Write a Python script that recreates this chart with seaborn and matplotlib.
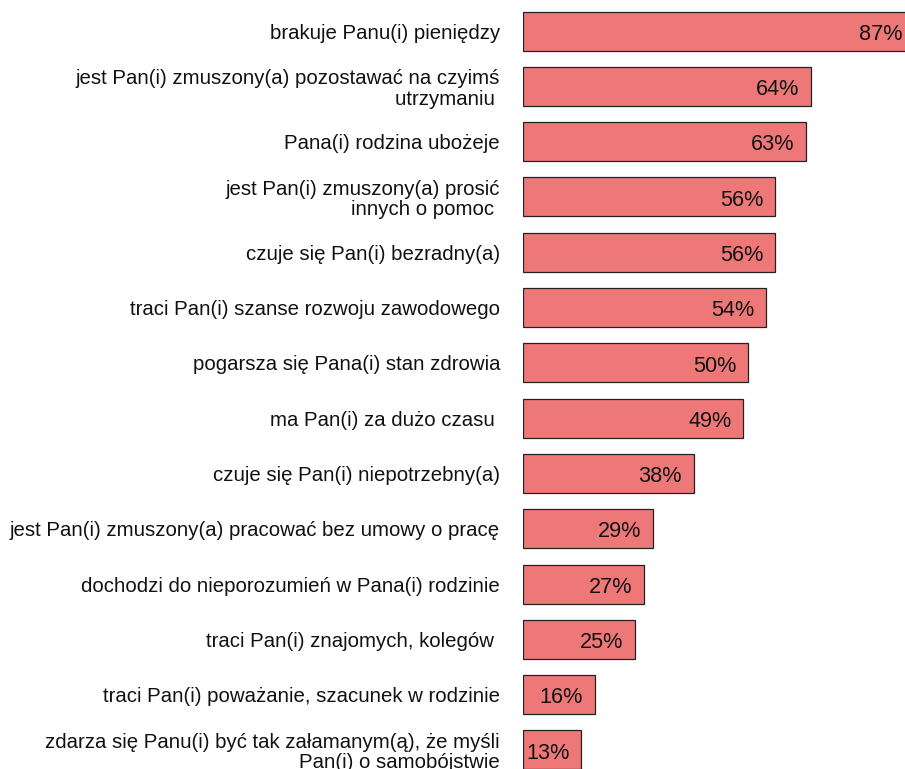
import matplotlib
matplotlib.use("Agg")
import matplotlib.pyplot as plt
import seaborn as sns
import pandas as pd

categories = [
    "brakuje Panu(i) pieniędzy",
    "jest Pan(i) zmuszony(a) pozostawać na czyimś\nutrzymaniu ",
    "Pana(i) rodzina ubożeje",
    "jest Pan(i) zmuszony(a) prosić\ninnych o pomoc ",
    "czuje się Pan(i) bezradny(a)",
    "traci Pan(i) szanse rozwoju zawodowego",
    "pogarsza się Pana(i) stan zdrowia",
    "ma Pan(i) za dużo czasu ",
    "czuje się Pan(i) niepotrzebny(a)",
    "jest Pan(i) zmuszony(a) pracować bez umowy o pracę",
    "dochodzi do nieporozumień w Pana(i) rodzinie",
    "traci Pan(i) znajomych, kolegów ",
    "traci Pan(i) poważanie, szacunek w rodzinie",
    "zdarza się Panu(i) być tak załamanym(ą), że myśli\nPan(i) o samobójstwie",
]
values = [87, 64, 63, 56, 56, 54, 50, 49, 38, 29, 27, 25, 16, 13]

df = pd.DataFrame({"cat": categories, "val": values})

sns.set_theme(style="white")
plt.rcParams["font.family"] = ["Liberation Sans", "DejaVu Sans"]

W, H = 905, 769
fig = plt.figure(figsize=(W / 100, H / 100), dpi=100)
left_px = 522.5
ax = fig.add_axes([left_px / W, 0, (W - left_px) / W, 1])

sns.barplot(data=df, y="cat", x="val", orient="h", color="#EE7878",
            saturation=1, edgecolor="#222222", linewidth=0.9, width=0.705, ax=ax)

px_per_unit = 4.5
ax.set_xlim(0, (W - left_px) / px_per_unit)
ax.set_ylim(13.345, -0.561)

for s in ax.spines.values():
    s.set_visible(False)
ax.set_xticks([])
ax.set_xlabel("")
ax.set_ylabel("")
ax.tick_params(axis="y", length=0, pad=16.2, labelsize=14.7, labelcolor="#111111")
for lab in ax.get_yticklabels():
    lab.set_linespacing(1.1)

for i, v in enumerate(values):
    ax.annotate(f"{v}%", xy=(v, i), xytext=(-8.2, -0.5), textcoords="offset points",
                ha="right", va="center_baseline", fontsize=15.6, color="#111111",
                annotation_clip=False)

fig.savefig("out.png", dpi=100)
